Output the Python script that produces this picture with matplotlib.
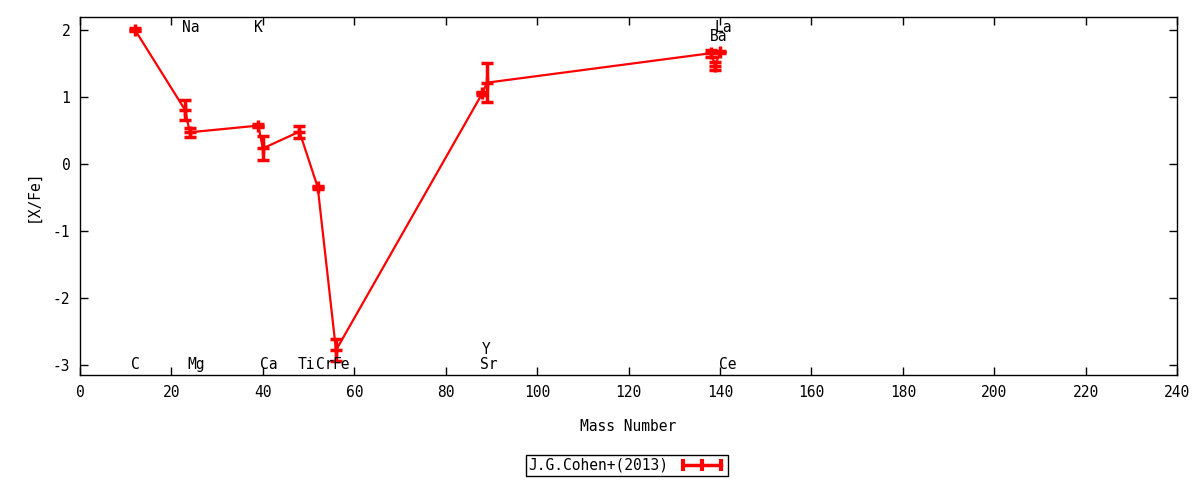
import numpy as np
import matplotlib
matplotlib.use("Agg")
import matplotlib.pyplot as plt
from matplotlib.lines import Line2D

plt.rcParams['font.family'] = ['DejaVu Sans Mono', 'DejaVu Sans']
plt.rcParams['font.size'] = 10
plt.rcParams['axes.unicode_minus'] = False

# abundance ratios [X/Fe] vs mass number, J.G.Cohen+(2013)
elements = ["C", "Na", "Mg", "K", "Ca", "Ti", "Cr", "Fe", "Sr", "Y", "Ba", "La", "Ce"]
mass = [12, 23, 24, 39, 40, 48, 52, 56, 88, 89, 138, 139, 140]
x_fe = [2.00, 0.80, 0.47, 0.57, 0.23, 0.48, -0.35, -2.78, 1.05, 1.21, 1.65, 1.46, 1.67]
x_fe_err = [0.02, 0.15, 0.07, 0.02, 0.18, 0.09, 0.02, 0.16, 0.02, 0.29, 0.05, 0.06, 0.02]

# where the element names sit (gnuplot style labels)
label_x = [11.2, 22.4, 23.5, 38.1, 39.4, 47.7, 51.6, 55.3, 87.6, 87.9, 137.8, 138.8, 139.7]
label_y = [-2.99, 2.04, -2.99, 2.04, -2.99, -2.99, -2.99, -2.99, -2.99, -2.77, 1.90, 2.04, -2.99]

fig = plt.figure(figsize=(12, 4.8), dpi=100)
ax = fig.add_axes([0.0667, 0.2188, 0.9142, 0.7458])

ax.errorbar(mass, x_fe, yerr=x_fe_err, fmt='-+', color='#ff0000',
            linewidth=1.6, markersize=8, markeredgewidth=2.5,
            elinewidth=2.5, capsize=4, capthick=2.5)

for name, lx, ly in zip(elements, label_x, label_y):
    ax.text(lx, ly, name, ha='left', va='center', fontsize=10.5)

ax.set_xlim(0, 240)
ax.set_ylim(-3.15, 2.19)
ax.set_xticks(np.arange(0, 241, 20))
ax.set_yticks(np.arange(-3, 3, 1))
ax.tick_params(direction='in', top=True, right=True, length=6, width=1,
               labelsize=10.5, pad=7)
for sp in ax.spines.values():
    sp.set_linewidth(1)

ax.set_xlabel("Mass Number", fontsize=10.5, labelpad=14)
ax.set_ylabel("[X/Fe]", fontsize=10.5, labelpad=9)

# gnuplot-like legend sample: line with caps at both ends and middle
proxy = Line2D([], [], color='#ff0000', linewidth=2.5, marker='|',
               markersize=9, markeredgewidth=3)
leg = fig.legend([proxy], ["J.G.Cohen+(2013)"], loc='center',
                 bbox_to_anchor=(0.5225, 0.031), markerfirst=False, numpoints=3,
                 fancybox=False, framealpha=1, edgecolor='black',
                 handlelength=3.2, borderpad=0.2, borderaxespad=0,
                 handletextpad=0.7, fontsize=10.5)
leg.get_frame().set_linewidth(1)
leg.get_frame().set_boxstyle('square', pad=0.0)

fig.savefig("out.png", dpi=100)
